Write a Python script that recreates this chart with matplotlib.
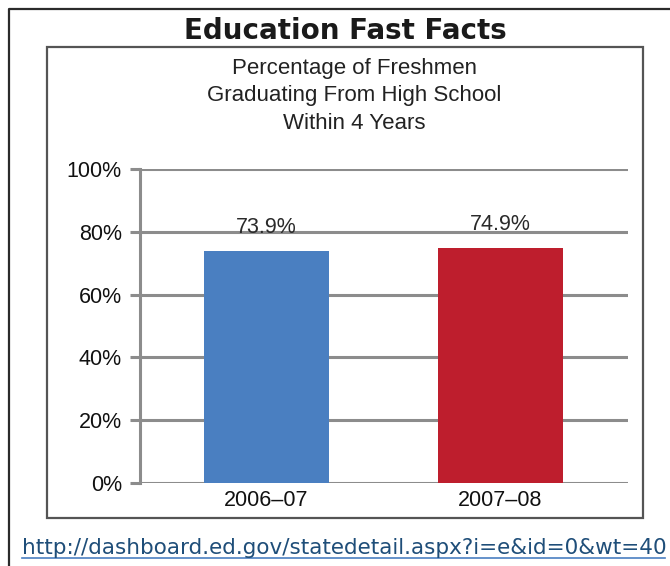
import matplotlib.pyplot as plt
from matplotlib.lines import Line2D
from matplotlib.patches import Rectangle

# graduation rates
years = ["2006–07", "2007–08"]
rates = [73.9, 74.9]
bar_colors = ["#4a7fc1", "#be1e2d"]
yticks = [0, 20, 40, 60, 80, 100]

W, H = 670, 566
fig = plt.figure(figsize=(W / 100, H / 100), dpi=100)
fig.patch.set_facecolor("white")

def fx(px):
    return px / W

def fy(py):
    return 1 - py / H

# outer frame (left and top edges only)
fig.add_artist(Line2D([fx(9), fx(9), fx(670)], [fy(566), fy(9), fy(9)],
                      color="#2b2b2b", lw=1.6, transform=fig.transFigure))
# inner box around the chart
fig.add_artist(Rectangle((fx(47), fy(518)), fx(643) - fx(47), fy(47) - fy(518),
                         fill=False, edgecolor="#555555", lw=1.6,
                         transform=fig.transFigure))

fig.text(fx(345), fy(31), "Education Fast Facts", ha="center", va="center",
         fontsize=20, fontweight="bold", family="DejaVu Sans", color="#1a1a1a")
fig.text(fx(354), fy(96), "Percentage of Freshmen\nGraduating From High School\nWithin 4 Years",
         ha="center", va="center", fontsize=16, family="Liberation Sans",
         color="#222222", linespacing=1.4)

ax = fig.add_axes([fx(140), fy(483), fx(628) - fx(140), fy(169) - fy(483)])
x = list(range(len(years)))
bars = ax.bar(x, rates, width=0.534, color=bar_colors, zorder=3)
for xi, r in zip(x, rates):
    ax.text(xi, r + 4.0, f"{r}%", ha="center", va="bottom", fontsize=15.5,
            family="Liberation Sans", color="#2a2a2a", zorder=4)

ax.set_xlim(-0.5406, 1.545)
ax.set_ylim(0, 100)
ax.set_yticks(yticks)
ax.set_yticklabels([f"{t}%" for t in yticks], family="Liberation Sans", fontsize=15.5)
ax.set_xticks(x)
ax.set_xticklabels(years, family="Liberation Sans", fontsize=15.5)
ax.grid(axis="y", color="#8c8c8c", lw=2.2, zorder=1)
ax.tick_params(axis="y", length=7, width=2.2, color="#8c8c8c", pad=6, labelcolor="#111111")
ax.tick_params(axis="x", length=0, pad=5, labelcolor="#111111")
for side in ["top", "right", "bottom"]:
    ax.spines[side].set_visible(False)
ax.spines["left"].set_color("#8c8c8c")
ax.spines["left"].set_linewidth(2.2)

fig.text(fx(22), fy(548), "http://dashboard.ed.gov/statedetail.aspx?i=e&id=0&wt=40",
         ha="left", va="center", fontsize=15.5, family="DejaVu Sans", color="#1f4e79")
fig.add_artist(Line2D([fx(22), fx(665)], [fy(558), fy(558)], color="#4a7fc1",
                      lw=1.2, transform=fig.transFigure))

fig.savefig("out.png", dpi=100)
